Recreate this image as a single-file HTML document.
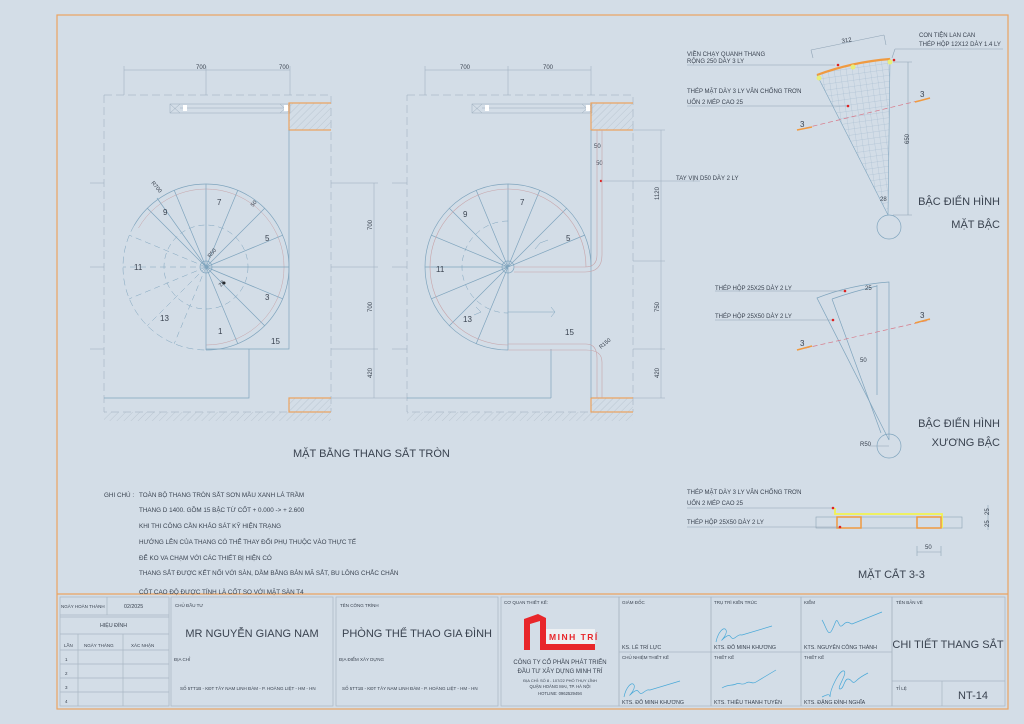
<!DOCTYPE html>
<html><head><meta charset="utf-8"><style>
html,body{margin:0;padding:0;background:#d3dde7;}
svg{display:block;}
text{font-family:"Liberation Sans",sans-serif;fill:#3a4350;}
</style></head><body>
<svg width="1024" height="724" viewBox="0 0 1024 724" xmlns="http://www.w3.org/2000/svg">
<defs>
<pattern id="h" width="5" height="5" patternUnits="userSpaceOnUse" patternTransform="rotate(45)"><line x1="0" y1="0" x2="0" y2="5" stroke="#aab6c2" stroke-width="0.6"/></pattern>
<pattern id="g" width="6" height="6" patternUnits="userSpaceOnUse" patternTransform="rotate(-8)"><path d="M0 0H6M0 0V6" stroke="#9db6cc" stroke-width="0.5" fill="none"/></pattern>
</defs>
<rect width="1024" height="724" fill="#d3dde7"/>
<rect x="57" y="15" width="951" height="694" fill="none" stroke="#eba461" stroke-width="1.2"/>
<line x1="57" y1="594" x2="1008" y2="594" stroke="#eba461" stroke-width="1.2"/>

<!-- ===== PLAN 1 ===== -->
<g stroke="#9aabbb" stroke-width="0.5" fill="none">
 <line x1="124" y1="70" x2="290" y2="70"/><line x1="124" y1="66" x2="124" y2="95"/><line x1="206" y1="66" x2="206" y2="95"/><line x1="290" y1="66" x2="290" y2="95"/>
 <rect x="104" y="95" width="227" height="317" stroke-dasharray="8,4"/>
 <line x1="374" y1="183" x2="374" y2="398"/>
 <line x1="331" y1="183" x2="378" y2="183"/><line x1="331" y1="267" x2="378" y2="267"/><line x1="331" y1="349" x2="378" y2="349"/><line x1="331" y1="398" x2="378" y2="398"/>
 <line x1="90" y1="183" x2="104" y2="183"/><line x1="90" y1="267" x2="104" y2="267"/><line x1="90" y1="349" x2="104" y2="349"/>
 <rect x="170" y="104" width="120" height="9"/><line x1="180" y1="108" x2="285" y2="108"/>
 <path d="M170 104l10 9M180 104l-10 9M280 104l10 9M290 104l-10 9"/>
</g>
<rect x="183" y="105" width="4" height="6" fill="#fff"/><rect x="284" y="105" width="4" height="6" fill="#fff"/>
<text x="196" y="69" font-size="6">700</text><text x="279" y="69" font-size="6">700</text>
<text transform="translate(372,230) rotate(-90)" font-size="6">700</text>
<text transform="translate(372,312) rotate(-90)" font-size="6">700</text>
<text transform="translate(372,378) rotate(-90)" font-size="6">420</text>
<rect x="289" y="103" width="42" height="27" fill="url(#h)" stroke="none"/>
<path d="M331 103H289V130H331" fill="none" stroke="#eba461" stroke-width="1.2"/>
<rect x="289" y="398" width="42" height="14" fill="url(#h)"/>
<path d="M331 398H289V412H331" fill="none" stroke="#eba461" stroke-width="1.2"/>
<rect x="104" y="412" width="227" height="9" fill="url(#h)"/>
<g fill="none" stroke="#7fa4bd" stroke-width="0.7">
 <path d="M206 350A83 83 0 1 0 134.1 225.5"/>
 <path d="M206 345A78 78 0 1 0 138.5 228" stroke="#c7a3a8" stroke-width="0.5"/>
 <path d="M134.1 225.5A83 83 0 0 0 206 350" stroke-dasharray="7,4" stroke-width="0.5"/>
 <path d="M289 130V349H206M249 349V398H104"/>
 <circle cx="206" cy="267" r="6"/>
 <circle cx="206" cy="267" r="42" stroke-dasharray="6,4" stroke-width="0.5"/>
 <path d="M206 267L206 350M206 267L237.8 343.7M206 267L264.7 325.7M206 267L282.7 298.8M206 267L289 267M206 267L282.7 235.2M206 267L264.7 208.3M206 267L237.8 190.3M206 267L206 184M206 267L174.2 190.3M206 267L147.3 208.3M206 267L157 198"/>
 <path d="M206 267L129.3 235.2M206 267L123 267M206 267L129.3 298.8M206 267L147.3 325.7M206 267L174.2 343.7" stroke-dasharray="6,4" stroke-width="0.5"/>
</g>
<circle cx="224" cy="283" r="1.5" fill="#222"/>
<g font-size="8"><text x="217" y="205">7</text><text x="163" y="215">9</text><text x="265" y="241">5</text><text x="134" y="270">11</text><text x="265" y="300">3</text><text x="160" y="321">13</text><text x="218" y="334">1</text><text x="271" y="344">15</text></g>
<text transform="translate(151,183) rotate(50)" font-size="5.5">R700</text>
<text transform="translate(210,258) rotate(-50)" font-size="5.5">R50</text>
<text transform="translate(221,287) rotate(-50)" font-size="5.5">28</text>
<text transform="translate(253,207) rotate(-50)" font-size="5.5">50</text>

<!-- ===== PLAN 2 ===== -->
<g stroke="#9aabbb" stroke-width="0.5" fill="none">
 <line x1="425" y1="70" x2="591" y2="70"/><line x1="425" y1="66" x2="425" y2="95"/><line x1="508" y1="66" x2="508" y2="95"/><line x1="591" y1="66" x2="591" y2="95"/>
 <rect x="407" y="95" width="226" height="317" stroke-dasharray="8,4"/>
 <line x1="661" y1="130" x2="661" y2="398"/>
 <line x1="633" y1="130" x2="665" y2="130"/><line x1="633" y1="261" x2="665" y2="261"/><line x1="633" y1="349" x2="665" y2="349"/><line x1="633" y1="398" x2="665" y2="398"/>
 <line x1="392" y1="183" x2="407" y2="183"/><line x1="392" y1="267" x2="407" y2="267"/><line x1="392" y1="349" x2="407" y2="349"/><line x1="378" y1="398" x2="407" y2="398"/>
 <rect x="472" y="104" width="120" height="9"/><line x1="482" y1="108" x2="587" y2="108"/>
 <path d="M472 104l10 9M482 104l-10 9M582 104l10 9M592 104l-10 9"/>
 <line x1="601" y1="181" x2="700" y2="181"/>
</g>
<circle cx="601" cy="181" r="1.2" fill="#d22"/>
<rect x="485" y="105" width="4" height="6" fill="#fff"/><rect x="586" y="105" width="4" height="6" fill="#fff"/>
<text x="460" y="69" font-size="6">700</text><text x="543" y="69" font-size="6">700</text>
<text transform="translate(659,200) rotate(-90)" font-size="6">1120</text>
<text transform="translate(659,312) rotate(-90)" font-size="6">750</text>
<text transform="translate(659,378) rotate(-90)" font-size="6">420</text>
<text x="594" y="148" font-size="6">50</text><text x="596" y="165" font-size="6">50</text>
<text x="676" y="180" font-size="6">TAY VỊN D50 DÀY 2 LY</text>
<rect x="591" y="103" width="42" height="27" fill="url(#h)"/>
<path d="M633 103H591V130H633" fill="none" stroke="#eba461" stroke-width="1.2"/>
<rect x="591" y="398" width="42" height="14" fill="url(#h)"/>
<path d="M633 398H591V412H633" fill="none" stroke="#eba461" stroke-width="1.2"/>
<rect x="407" y="412" width="226" height="9" fill="url(#h)"/>
<g fill="none" stroke="#7fa4bd" stroke-width="0.7">
 <path d="M591 267A83 83 0 1 0 508 350"/>
 <path d="M591 130V398M551 349V398"/>
 <path d="M551 398H407" />
 <circle cx="508" cy="267" r="6"/>
 <path d="M508 221A46 46 0 1 0 508 313" stroke-dasharray="6,4" stroke-width="0.5"/>
 <path d="M508 267L585 235M508 267L566.7 208.3M508 267L539.8 190.3M508 267L508 184M508 267L476.2 190.3M508 267L449.3 208.3M508 267L431.3 235.2M508 267L425 267M508 267L431.3 298.8M508 267L449.3 325.7M508 267L476.2 343.7M508 267V350"/>
 <path d="M508 312H555M551 307L555 312L551 317M481 312l-5-5M481 312l-7 3M540 243l8-3M540 243l-5 6" stroke-width="0.5"/>
</g>
<g fill="none" stroke="#c7a3a8" stroke-width="0.6">
 <path d="M586 267A78 78 0 1 0 508 345"/>
 <path d="M508 344H586Q597 344 597 358V398M508 350H586Q602 350 602 362V398"/>
 <path d="M597 130V255Q597 267 585 267H514M602 130V255Q602 272 585 272H514"/>
</g>
<g font-size="8"><text x="520" y="205">7</text><text x="463" y="217">9</text><text x="566" y="241">5</text><text x="436" y="272">11</text><text x="463" y="322">13</text><text x="565" y="335">15</text></g>
<text transform="translate(601,349) rotate(-40)" font-size="5.5">R150</text>

<text x="293" y="457" font-size="11">MẶT BẰNG THANG SẮT TRÒN</text>

<!-- ===== MAT BAC ===== -->
<path d="M817 75 Q852 62 890 59 L888 215 Z" fill="url(#g)" stroke="#7fa4bd" stroke-width="0.6"/>
<path d="M817 75 Q852 62 890 59" fill="none" stroke="#f09a40" stroke-width="2.2"/>
<circle cx="889" cy="227" r="12" fill="none" stroke="#7fa4bd" stroke-width="0.7"/>
<g fill="#e8ee7a"><circle cx="819" cy="78" r="2.5"/><circle cx="853" cy="67" r="2.5"/><circle cx="890" cy="62" r="2.5"/></g>
<g stroke="#8fa3b5" stroke-width="0.6" fill="none">
 <line x1="811" y1="50" x2="884" y2="35"/><line x1="811" y1="50" x2="813" y2="58"/><line x1="884" y1="35" x2="886" y2="45"/>
 <line x1="908" y1="62" x2="908" y2="215"/><line x1="893" y1="62" x2="912" y2="62"/><line x1="893" y1="215" x2="912" y2="215"/>
 <line x1="687" y1="65" x2="835" y2="65"/><line x1="687" y1="106" x2="848" y2="106"/><line x1="895" y1="49" x2="1003" y2="49"/><line x1="895" y1="49" x2="892" y2="58"/>
</g>
<path d="M797 130L930 98" stroke="#d77a8a" stroke-width="0.7" stroke-dasharray="5,3"/>
<path d="M797 130l15-3M915 102l15-4" stroke="#f09a40" stroke-width="1.5"/>
<circle cx="838" cy="65" r="1.3" fill="#d22"/><circle cx="848" cy="106" r="1.3" fill="#d22"/><circle cx="894" cy="60" r="1.3" fill="#d22"/>
<g font-size="6"><text x="687" y="56">VIỀN CHẠY QUANH THANG</text><text x="687" y="63">RỘNG 250 DÀY 3 LY</text>
<text x="687" y="93">THÉP MẶT DÀY 3 LY VÂN CHỐNG TRƠN</text><text x="687" y="104">UỐN 2 MÉP CAO 25</text>
<text x="919" y="37">CON TIỆN LAN CAN</text><text x="919" y="46">THÉP HỘP 12X12 DÀY 1.4 LY</text>
<text x="842" y="43" transform="rotate(-10 842 43)">312</text><text transform="translate(909,144) rotate(-90)">650</text><text x="880" y="201">28</text></g>
<text x="800" y="127" font-size="8">3</text><text x="920" y="97" font-size="8">3</text>
<text x="1000" y="205" font-size="11" text-anchor="end">BẬC ĐIỂN HÌNH</text><text x="1000" y="228" font-size="11" text-anchor="end">MẶT BẬC</text>

<!-- ===== XUONG BAC ===== -->
<g fill="none" stroke="#7fa4bd" stroke-width="0.7">
 <path d="M817 298Q850 285 889 282L889 440Z"/>
 <path d="M832 299L881 433M877 285V395M832 299Q855 291 877 286"/>
 <circle cx="889" cy="446" r="12"/>
</g>
<g stroke="#8fa3b5" stroke-width="0.6"><line x1="715" y1="291" x2="845" y2="291"/><line x1="715" y1="320" x2="833" y2="320"/><line x1="869" y1="446" x2="889" y2="446"/></g>
<path d="M797 350L930 320" stroke="#d77a8a" stroke-width="0.7" stroke-dasharray="5,3"/>
<path d="M797 350l15-4M915 323l15-4" stroke="#f09a40" stroke-width="1.5"/>
<circle cx="845" cy="291" r="1.3" fill="#d22"/><circle cx="833" cy="320" r="1.3" fill="#d22"/>
<g font-size="6"><text x="715" y="290">THÉP HỘP 25X25 DÀY 2 LY</text><text x="715" y="318">THÉP HỘP 25X50 DÀY 2 LY</text>
<text x="860" y="362">50</text><text x="865" y="290">25</text><text x="860" y="446">R50</text></g>
<text x="800" y="346" font-size="8">3</text><text x="920" y="318" font-size="8">3</text>
<text x="1000" y="427" font-size="11" text-anchor="end">BẬC ĐIỂN HÌNH</text><text x="1000" y="446" font-size="11" text-anchor="end">XƯƠNG BẬC</text>

<!-- ===== MAT CAT ===== -->
<rect x="816" y="517" width="146" height="11" fill="none" stroke="#8fa3b5" stroke-width="0.6"/>
<path d="M835 508V514H942V528" fill="none" stroke="#f2f250" stroke-width="1.8"/>
<rect x="837" y="517" width="24" height="11" fill="none" stroke="#f09a40" stroke-width="1.5"/>
<rect x="917" y="517" width="24" height="11" fill="none" stroke="#f09a40" stroke-width="1.5"/>
<g stroke="#8fa3b5" stroke-width="0.6"><line x1="687" y1="508" x2="833" y2="508"/><line x1="687" y1="527" x2="839" y2="527"/>
<line x1="917" y1="552" x2="941" y2="552"/><line x1="917" y1="546" x2="917" y2="556"/><line x1="941" y1="546" x2="941" y2="556"/>
<line x1="988" y1="505" x2="988" y2="530"/></g>
<circle cx="833" cy="508" r="1.3" fill="#d22"/><circle cx="840" cy="527" r="1.3" fill="#d22"/>
<g font-size="6"><text x="687" y="494">THÉP MẶT DÀY 3 LY VÂN CHỐNG TRƠN</text><text x="687" y="505">UỐN 2 MÉP CAO 25</text><text x="687" y="524">THÉP HỘP 25X50 DÀY 2 LY</text><text x="925" y="549">50</text>
<text transform="translate(989,515) rotate(-90)">25</text><text transform="translate(989,527) rotate(-90)">25</text></g>
<text x="858" y="578" font-size="11">MẶT CẮT 3-3</text>

<!-- ===== NOTES ===== -->
<g font-size="6.3"><text x="104" y="497">GHI CHÚ :</text>
<text x="139" y="497">TOÀN BỘ THANG TRÒN SẮT SƠN MẦU XANH LÁ TRẦM</text>
<text x="139" y="512">THANG D 1400. GỒM 15 BẬC TỪ CỐT + 0.000  -&gt;  + 2.600</text>
<text x="139" y="528">KHI THI CÔNG CẦN KHẢO SÁT KỸ HIỆN TRẠNG</text>
<text x="139" y="544">HƯỚNG LÊN CỦA THANG CÓ THỂ THAY ĐỔI PHỤ THUỘC VÀO THỰC TẾ</text>
<text x="139" y="560">ĐỂ KO VA CHẠM VỚI CÁC THIẾT BỊ HIỆN CÓ</text>
<text x="139" y="575">THANG SẮT ĐƯỢC KẾT NỐI VỚI SÀN, DẦM BẰNG BẢN MÃ SẮT, BU LÔNG CHẮC CHẮN</text>
<text x="139" y="594">CỐT CAO ĐỘ ĐƯỢC TÍNH  LÀ CỐT SO VỚI MẶT SÀN T4</text></g>

<!-- ===== TITLE BLOCK ===== -->
<g fill="none" stroke="#a9b6c3" stroke-width="0.7">
 <rect x="60" y="597" width="109" height="109"/>
 <line x1="60" y1="615" x2="169" y2="615"/><line x1="107" y1="597" x2="107" y2="615"/>
 <line x1="60" y1="617" x2="169" y2="617"/>
 <line x1="60" y1="634" x2="169" y2="634"/><line x1="60" y1="650" x2="169" y2="650"/><line x1="60" y1="664" x2="169" y2="664"/><line x1="60" y1="678" x2="169" y2="678"/><line x1="60" y1="692" x2="169" y2="692"/>
 <line x1="78" y1="634" x2="78" y2="706"/><line x1="123" y1="634" x2="123" y2="706"/>
 <rect x="171" y="597" width="162" height="109"/>
 <rect x="336" y="597" width="162" height="109"/>
 <rect x="501" y="597" width="118" height="109"/>
 <rect x="619" y="597" width="92" height="109"/><rect x="711" y="597" width="90" height="109"/><rect x="801" y="597" width="91" height="109"/>
 <line x1="619" y1="652" x2="892" y2="652"/>
 <rect x="892" y="597" width="113" height="109"/><line x1="892" y1="681" x2="1005" y2="681"/><line x1="942" y1="681" x2="942" y2="706"/>
</g>
<g font-size="4.5"><text x="61" y="608">NGÀY HOÀN THÀNH</text>
<text x="64" y="647">LẦN</text><text x="84" y="647">NGÀY THÁNG</text><text x="131" y="647">XÁC NHẬN</text>
<text x="65" y="661">1</text><text x="65" y="675">2</text><text x="65" y="689">3</text><text x="65" y="703">4</text>
<text x="175" y="607">CHỦ ĐẦU TƯ</text><text x="174" y="661">ĐỊA CHỈ</text><text x="180" y="690">SỐ 5TT1B - KĐT TÂY NAM LINH ĐÀM - P. HOÀNG LIỆT - HM - HN</text>
<text x="340" y="607">TÊN CÔNG TRÌNH</text><text x="339" y="661">ĐỊA ĐIỂM XÂY DỰNG</text><text x="342" y="690">SỐ 5TT1B - KĐT TÂY NAM LINH ĐÀM - P. HOÀNG LIỆT - HM - HN</text>
<text x="504" y="604">CƠ QUAN THIẾT KẾ:</text>
<text x="622" y="604">GIÁM ĐỐC</text><text x="714" y="604">TRỤ TRÌ KIẾN TRÚC</text><text x="804" y="604">KIỂM</text><text x="896" y="604">TÊN BẢN VẼ</text>
<text x="622" y="659">CHỦ NHIỆM THIẾT KẾ</text><text x="714" y="659">THIẾT KẾ</text><text x="804" y="659">THIẾT KẾ</text><text x="896" y="690">TỈ LỆ</text>
<text x="560" y="682" font-size="4" text-anchor="middle">ĐỊA CHỈ: SỐ 8 - 107/22 PHỐ THỤY LĨNH</text></g>
<g font-size="5.3"><text x="622" y="649">KS. LÊ TRÍ LỰC</text><text x="714" y="649">KTS. ĐỖ MINH KHƯƠNG</text><text x="804" y="649">KTS. NGUYỄN CÔNG THÀNH</text>
<text x="622" y="704">KTS. ĐỖ MINH KHƯƠNG</text><text x="714" y="704">KTS. THIỀU THANH TUYÊN</text><text x="804" y="704">KTS. ĐẶNG ĐÌNH NGHĨA</text>
<text x="124" y="608">02/2025</text><text x="100" y="627">HIỆU ĐÍNH</text></g>
<text x="252" y="637" font-size="11" text-anchor="middle">MR NGUYỄN GIANG NAM</text>
<text x="417" y="637" font-size="11" text-anchor="middle">PHÒNG THỂ THAO GIA ĐÌNH</text>
<text x="948" y="648" font-size="11" text-anchor="middle">CHI TIẾT THANG SẮT</text>
<text x="973" y="699" font-size="11" text-anchor="middle">NT-14</text>
<g text-anchor="middle"><text x="560" y="664" font-size="6">CÔNG TY CỔ PHẦN PHÁT TRIỂN</text><text x="560" y="673" font-size="6">ĐẦU TƯ XÂY DỰNG MINH TRÍ</text>
<text x="560" y="688" font-size="4.2">QUẬN HOÀNG MAI, TP. HÀ NỘI</text><text x="560" y="695" font-size="4.2">HOTLINE: 0962529494</text></g>
<path d="M524 650V619L538 614L546 618V650H540V621L530 624V650Z" fill="#e8262a"/>
<rect x="546" y="629" width="49" height="15" fill="#edf0f3"/>
<rect x="546" y="644" width="49" height="6" fill="#e8262a"/>
<text x="549" y="640" font-size="8.5" font-weight="bold" style="fill:#e8262a;letter-spacing:1.5px">MINH TRÍ</text>
<g fill="none" stroke="#4aa9d8" stroke-width="0.7">
 <path d="M716 642c2-10 8-16 10-12s-6 12-4 10 6-6 8-4 2 4 6 1 4-2 6-2l30-9"/>
 <path d="M624 697c2-10 8-16 10-12s-6 12-4 10 6-6 8-4 2 4 6 1 4-2 6-2l30-9"/>
 <path d="M822 620c4 6 6 18 10 10s4-12 6-8 2 6 6 2 6 0 8 0l30-12"/>
 <path d="M722 688c6-4 10-2 14-4s6 2 10-1 6 2 10-1l20-12"/>
 <path d="M822 697c4-2 8-4 8 0 0-8 10-28 14-26s-8 18-4 18 4-10 8-10 4 6 8 2 8-6 12-8"/>
</g>
</svg>
</body></html>
